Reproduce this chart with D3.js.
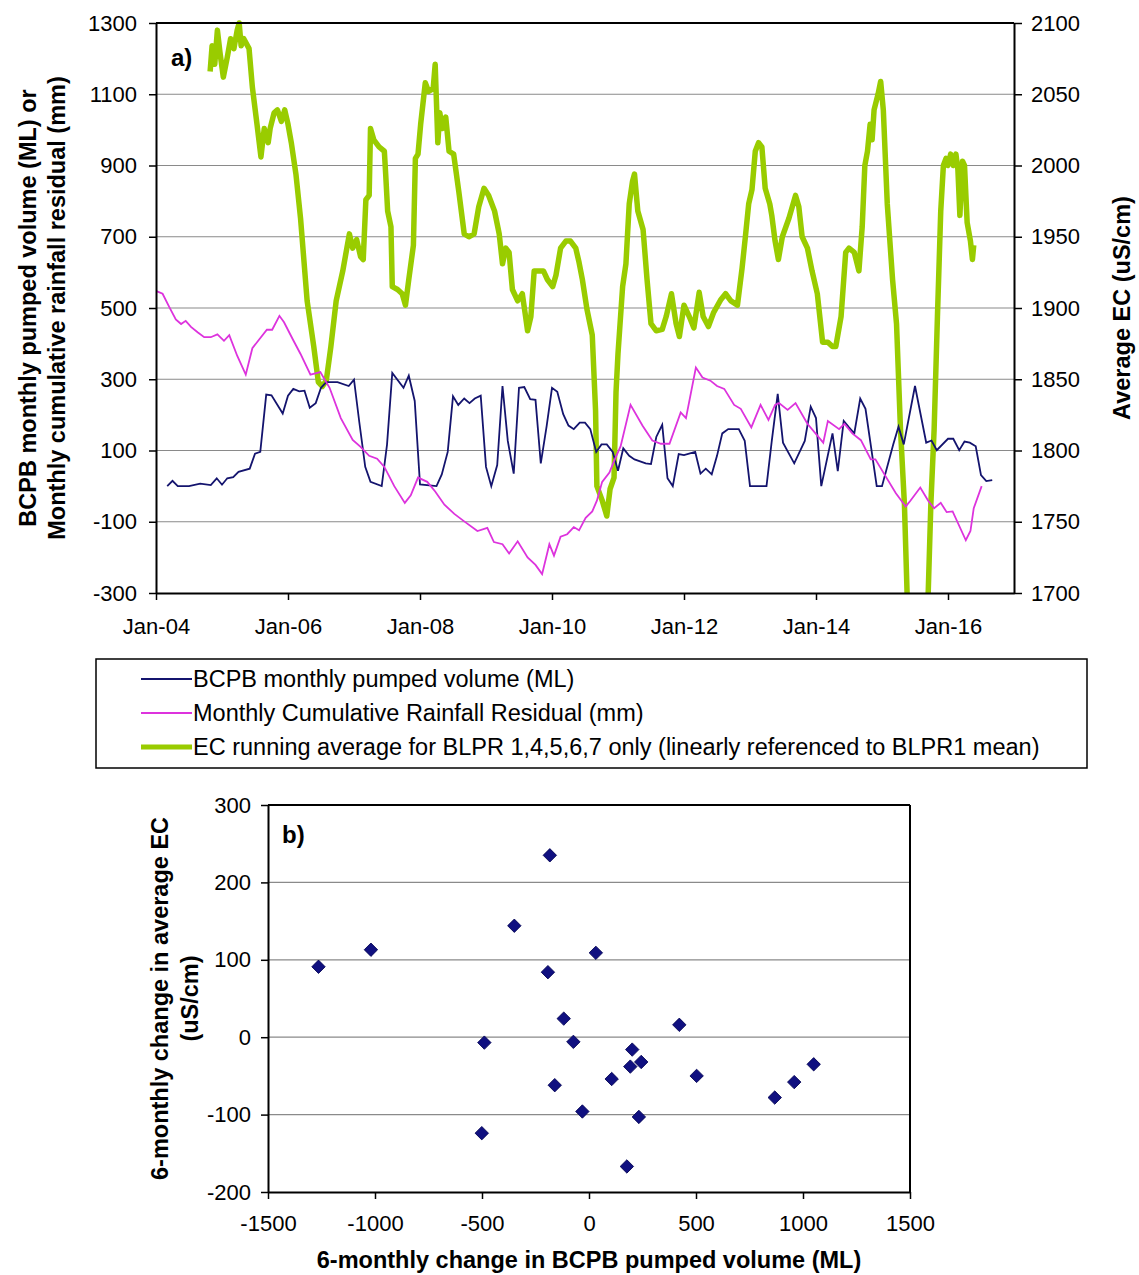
<!DOCTYPE html>
<html><head><meta charset="utf-8">
<script src="https://cdn.jsdelivr.net/npm/d3@7"></script>
<style>
body{margin:0;background:#fff;}
svg text{font-family:"Liberation Sans",Arial,sans-serif;fill:#000;}
</style></head>
<body>
<svg id="c" width="1139" height="1275"></svg>
<script>
// ---------- DATA (x = decimal year) ----------
const pumpedVolume = [
[2004.17,0],[2004.25,15],[2004.33,0],[2004.50,0],[2004.67,7],[2004.83,3],[2004.92,22],[2005.00,4],[2005.08,22],[2005.17,25],
[2005.25,40],[2005.42,49],[2005.50,91],[2005.58,96],[2005.67,257],[2005.75,255],[2005.92,204],[2006.00,254],[2006.08,273],[2006.17,266],
[2006.25,268],[2006.33,220],[2006.42,233],[2006.50,276],[2006.58,292],[2006.75,292],[2006.92,281],[2007.00,299],[2007.08,180],[2007.17,54],
[2007.25,12],[2007.42,0],[2007.50,116],[2007.58,318],[2007.75,276],[2007.83,310],[2007.92,239],[2008.00,5],[2008.25,0],[2008.33,33],
[2008.42,96],[2008.50,252],[2008.58,228],[2008.67,246],[2008.75,233],[2008.83,246],[2008.92,254],[2009.00,54],[2009.08,0],[2009.17,59],
[2009.25,281],[2009.33,127],[2009.42,35],[2009.50,276],[2009.58,278],[2009.67,244],[2009.75,242],[2009.83,64],[2009.92,170],[2010.00,276],
[2010.08,265],[2010.17,202],[2010.25,170],[2010.33,160],[2010.42,178],[2010.50,178],[2010.58,160],[2010.67,96],[2010.75,117],[2010.83,117],
[2010.92,96],[2011.00,43],[2011.08,106],[2011.17,85],[2011.25,75],[2011.42,64],[2011.50,62],[2011.58,138],[2011.67,172],[2011.75,22],
[2011.83,0],[2011.92,90],[2012.00,87],[2012.17,96],[2012.25,35],[2012.33,49],[2012.42,33],[2012.50,85],[2012.58,148],[2012.67,160],
[2012.83,160],[2012.92,127],[2013.00,0],[2013.25,0],[2013.33,127],[2013.42,259],[2013.50,122],[2013.67,64],[2013.83,127],[2013.92,223],
[2014.00,191],[2014.08,0],[2014.25,148],[2014.33,42],[2014.42,183],[2014.50,165],[2014.58,148],[2014.67,246],[2014.75,217],[2014.92,0],
[2015.00,0],[2015.17,117],[2015.25,167],[2015.33,117],[2015.50,281],[2015.67,122],[2015.75,128],[2015.83,101],[2016.00,133],[2016.08,133],
[2016.17,101],[2016.25,125],[2016.33,122],[2016.42,112],[2016.50,31],[2016.58,14],[2016.67,17]
];
const rainfallResidual = [
[2004.00,548],[2004.10,540],[2004.20,503],[2004.30,468],[2004.38,455],[2004.45,464],[2004.53,447],[2004.63,432],[2004.73,418],[2004.83,418],
[2004.93,426],[2005.03,408],[2005.11,424],[2005.23,366],[2005.36,313],[2005.46,387],[2005.56,411],[2005.68,439],[2005.76,439],[2005.87,478],
[2005.94,460],[2006.07,413],[2006.19,371],[2006.34,313],[2006.49,320],[2006.63,276],[2006.80,191],[2006.98,130],[2007.10,110],[2007.23,85],
[2007.35,77],[2007.46,54],[2007.61,0],[2007.77,-47],[2007.86,-26],[2007.97,24],[2008.11,12],[2008.23,-15],[2008.37,-52],[2008.52,-78],
[2008.67,-99],[2008.87,-126],[2009.02,-117],[2009.12,-157],[2009.25,-163],[2009.35,-189],[2009.48,-155],[2009.63,-200],[2009.75,-221],[2009.85,-247],
[2009.96,-163],[2010.03,-195],[2010.13,-142],[2010.23,-135],[2010.33,-115],[2010.41,-124],[2010.51,-89],[2010.61,-71],[2010.68,-41],[2010.76,12],
[2010.87,38],[2010.94,70],[2011.04,112],[2011.19,228],[2011.37,170],[2011.52,128],[2011.65,119],[2011.78,119],[2011.95,207],[2012.03,191],
[2012.18,333],[2012.28,305],[2012.40,296],[2012.50,281],[2012.61,273],[2012.76,228],[2012.86,217],[2013.02,165],[2013.16,228],[2013.28,186],
[2013.38,228],[2013.44,233],[2013.57,214],[2013.69,233],[2013.87,175],[2014.11,122],[2014.18,183],[2014.35,160],[2014.43,175],[2014.55,148],
[2014.68,129],[2014.83,75],[2014.90,75],[2015.03,35],[2015.21,-20],[2015.36,-57],[2015.43,-41],[2015.58,-4],[2015.70,-41],[2015.79,-62],
[2015.89,-47],[2015.98,-73],[2016.07,-71],[2016.27,-152],[2016.34,-126],[2016.39,-62],[2016.51,0]
];
const ecRunningAverage = [
[2004.82,2066],[2004.85,2084],[2004.89,2071],[2004.93,2095],[2004.97,2079],[2005.02,2062],[2005.08,2076],[2005.13,2089],[2005.18,2082],[2005.23,2095],
[2005.26,2100],[2005.29,2084],[2005.33,2089],[2005.41,2082],[2005.46,2055],[2005.53,2029],[2005.59,2006],[2005.64,2026],[2005.70,2016],[2005.73,2026],
[2005.79,2037],[2005.84,2039],[2005.90,2031],[2005.95,2039],[2006.00,2029],[2006.05,2016],[2006.12,1994],[2006.19,1963],[2006.29,1905],[2006.39,1873],
[2006.46,1848],[2006.52,1845],[2006.58,1849],[2006.65,1873],[2006.73,1905],[2006.83,1926],[2006.93,1952],[2006.98,1942],[2007.04,1948],[2007.10,1936],
[2007.14,1934],[2007.18,1976],[2007.23,1979],[2007.25,2026],[2007.30,2018],[2007.38,2013],[2007.46,2010],[2007.48,1994],[2007.51,1968],[2007.56,1957],
[2007.58,1915],[2007.66,1913],[2007.73,1910],[2007.78,1902],[2007.83,1920],[2007.90,1944],[2007.93,2005],[2007.97,2008],[2008.01,2029],[2008.08,2058],
[2008.13,2052],[2008.20,2054],[2008.23,2071],[2008.27,2016],[2008.30,2037],[2008.34,2026],[2008.39,2034],[2008.44,2010],[2008.51,2008],[2008.59,1981],
[2008.67,1952],[2008.74,1950],[2008.82,1952],[2008.89,1971],[2008.97,1984],[2009.04,1979],[2009.13,1968],[2009.20,1952],[2009.25,1931],[2009.30,1942],
[2009.35,1939],[2009.40,1913],[2009.48,1905],[2009.55,1910],[2009.60,1894],[2009.63,1884],[2009.68,1894],[2009.73,1926],[2009.80,1926],[2009.87,1926],
[2009.93,1920],[2010.01,1915],[2010.06,1923],[2010.13,1942],[2010.21,1947],[2010.28,1947],[2010.36,1942],[2010.41,1932],[2010.46,1920],[2010.53,1899],
[2010.61,1881],[2010.66,1828],[2010.68,1775],[2010.76,1765],[2010.83,1754],[2010.88,1773],[2010.94,1781],[2010.97,1841],[2011.00,1868],[2011.07,1915],
[2011.12,1931],[2011.17,1973],[2011.22,1989],[2011.25,1994],[2011.30,1968],[2011.38,1955],[2011.44,1920],[2011.50,1889],[2011.58,1884],[2011.67,1885],
[2011.73,1894],[2011.81,1910],[2011.88,1889],[2011.93,1880],[2012.00,1902],[2012.08,1894],[2012.15,1886],[2012.23,1911],[2012.29,1894],[2012.37,1887],
[2012.45,1897],[2012.56,1906],[2012.63,1910],[2012.71,1905],[2012.81,1902],[2012.88,1928],[2012.93,1950],[2012.98,1973],[2013.03,1983],[2013.08,2010],
[2013.13,2016],[2013.18,2013],[2013.23,1984],[2013.30,1973],[2013.33,1965],[2013.38,1947],[2013.43,1934],[2013.49,1950],[2013.59,1963],[2013.69,1979],
[2013.74,1971],[2013.79,1950],[2013.87,1942],[2013.94,1926],[2014.02,1910],[2014.10,1876],[2014.18,1876],[2014.25,1873],[2014.30,1873],[2014.38,1894],
[2014.45,1939],[2014.50,1942],[2014.58,1939],[2014.65,1926],[2014.70,1957],[2014.74,2000],[2014.78,2010],[2014.82,2029],[2014.85,2018],[2014.88,2039],
[2014.94,2050],[2014.98,2059],[2015.02,2039],[2015.08,1973],[2015.16,1920],[2015.22,1889],[2015.28,1815],[2015.34,1762],[2015.38,1700],[2015.43,1680],
[2015.65,1680],[2015.70,1700],[2015.74,1762],[2015.79,1815],[2015.84,1894],[2015.89,1968],[2015.93,2000],[2015.97,2005],[2016.00,2000],[2016.04,2008],
[2016.08,2000],[2016.12,2008],[2016.15,1997],[2016.18,1965],[2016.22,2003],[2016.25,2000],[2016.29,1960],[2016.34,1947],[2016.37,1934],[2016.39,1944]
];
const xTickYears = [2004,2006,2008,2010,2012,2014,2016];
const xTickLabels = ["Jan-04","Jan-06","Jan-08","Jan-10","Jan-12","Jan-14","Jan-16"];
const leftTicks = [-300,-100,100,300,500,700,900,1100,1300];
const rightTicks = [1700,1750,1800,1850,1900,1950,2000,2050,2100];
const seriesNames = ["BCPB monthly pumped volume (ML)","Monthly Cumulative Rainfall Residual (mm)","EC running average for BLPR 1,4,5,6,7 only (linearly referenced to BLPR1 mean)"];

// scatter (b): [change in pumped volume ML, change in average EC uS/cm]
const scatterPumpChange = [-1264,-1019,-349,-183,-192,32,-118,-489,-73,422,202,193,244,106,-160,503,1050,959,868,-31,233,-501,177];
const scatterECChange   = [91,113,144,235,84,109,24,-7,-6,16,-16,-38,-32,-54,-62,-50,-35,-58,-78,-96,-103,-124,-167];
const scatterXTicks = [-1500,-1000,-500,0,500,1000,1500];
const scatterYTicks = [-200,-100,0,100,200,300];

// ---------- CHART A ----------
const svg = d3.select("#c");
const A = {l:156, r:1014, t:23, b:593};
const x = d3.scaleLinear().domain([2004,2017]).range([A.l,A.r]);
const yL = d3.scaleLinear().domain([-300,1300]).range([A.b,A.t]);
const yR = d3.scaleLinear().domain([1700,2100]).range([A.b,A.t]);
const colors = {pump:"#14146e", rain:"#dd33dd", ec:"#99cc00"};
const fs = "22px";
const plain = d => String(d);

const ga = svg.append("g");
ga.append("g").selectAll("line").data(leftTicks.filter(v=>v>-300 && v<1300)).join("line")
  .attr("x1",A.l).attr("x2",A.r).attr("y1",d=>yL(d)).attr("y2",d=>yL(d))
  .attr("stroke","#8a8a8a").attr("stroke-width",1.2);

const defs = svg.append("defs");
defs.append("clipPath").attr("id","clipA").append("rect")
  .attr("x",A.l).attr("y",A.t-3).attr("width",A.r-A.l).attr("height",A.b-A.t+3);

const lineL = d3.line().x(d=>x(d[0])).y(d=>yL(d[1]));
const lineR = d3.line().x(d=>x(d[0])).y(d=>yR(d[1]));
const gl = ga.append("g").attr("clip-path","url(#clipA)");
gl.append("path").datum(ecRunningAverage).attr("d",lineR).attr("fill","none")
  .attr("stroke",colors.ec).attr("stroke-width",5.5).attr("stroke-linejoin","round");
gl.append("path").datum(pumpedVolume).attr("d",lineL).attr("fill","none")
  .attr("stroke",colors.pump).attr("stroke-width",1.8);
gl.append("path").datum(rainfallResidual).attr("d",lineL).attr("fill","none")
  .attr("stroke",colors.rain).attr("stroke-width",1.8);

ga.append("line").attr("x1",A.l).attr("x2",A.r).attr("y1",A.t).attr("y2",A.t).attr("stroke","#000").attr("stroke-width",2);

function styleAxis(g){
  g.selectAll(".domain").attr("stroke","#000").attr("stroke-width",2);
  g.selectAll(".tick line").attr("stroke","#000").attr("stroke-width",1.5);
  g.selectAll("text").style("font-size",fs).attr("fill","#000").style("font-family","'Liberation Sans',Arial,sans-serif");
}
const axL = ga.append("g").attr("transform",`translate(${A.l},0)`)
  .call(d3.axisLeft(yL).tickValues(leftTicks).tickSize(7).tickSizeOuter(0).tickPadding(12).tickFormat(plain));
styleAxis(axL);
const axR = ga.append("g").attr("transform",`translate(${A.r},0)`)
  .call(d3.axisRight(yR).tickValues(rightTicks).tickSize(8).tickSizeOuter(0).tickPadding(9).tickFormat(plain));
styleAxis(axR);
const axB = ga.append("g").attr("transform",`translate(0,${A.b})`)
  .call(d3.axisBottom(x).tickValues(xTickYears).tickSize(7).tickSizeOuter(0).tickPadding(18)
  .tickFormat((d,i)=>xTickLabels[i]));
styleAxis(axB);

ga.append("text").attr("x",171).attr("y",66).text("a)").style("font-size","24px").style("font-weight","bold");

const ay = (A.t+A.b)/2;
const tfs = "23.5px";
ga.append("text").attr("transform",`translate(36,${ay}) rotate(-90)`).attr("text-anchor","middle")
  .style("font-size",tfs).style("font-weight","bold").text("BCPB monthly pumped volume (ML) or");
ga.append("text").attr("transform",`translate(65,${ay}) rotate(-90)`).attr("text-anchor","middle")
  .style("font-size",tfs).style("font-weight","bold").text("Monthly cumulative rainfall residual (mm)");
ga.append("text").attr("transform",`translate(1130,${ay}) rotate(-90)`).attr("text-anchor","middle")
  .style("font-size",tfs).style("font-weight","bold").text("Average EC (uS/cm)");

// legend
const lg = svg.append("g");
lg.append("rect").attr("x",96).attr("y",659).attr("width",991).attr("height",109)
  .attr("fill","#fff").attr("stroke","#000").attr("stroke-width",1.5);
const legendColors = [colors.pump, colors.rain, colors.ec];
const legendWidths = [1.8,1.8,5];
seriesNames.forEach((name,i)=>{
  const yy = 679 + i*34;
  lg.append("line").attr("x1",141).attr("x2",192).attr("y1",yy).attr("y2",yy)
    .attr("stroke",legendColors[i]).attr("stroke-width",legendWidths[i]);
  lg.append("text").attr("x",193).attr("y",yy+8).style("font-size","23.5px").text(name);
});

// ---------- CHART B ----------
const B = {l:268, r:910, t:805, b:1192};
const xs = d3.scaleLinear().domain([-1500,1500]).range([B.l,B.r]);
const ys = d3.scaleLinear().domain([-200,300]).range([B.b,B.t]);
const gb = svg.append("g");
gb.append("g").selectAll("line").data(scatterYTicks.filter(v=>v>-200 && v<300)).join("line")
  .attr("x1",B.l).attr("x2",B.r).attr("y1",d=>ys(d)).attr("y2",d=>ys(d))
  .attr("stroke","#8a8a8a").attr("stroke-width",1.2);
gb.append("line").attr("x1",B.l).attr("x2",B.r).attr("y1",B.t).attr("y2",B.t).attr("stroke","#000").attr("stroke-width",2);
gb.append("line").attr("x1",B.r).attr("x2",B.r).attr("y1",B.t).attr("y2",B.b).attr("stroke","#000").attr("stroke-width",2);
const bxL = gb.append("g").attr("transform",`translate(${B.l},0)`)
  .call(d3.axisLeft(ys).tickValues(scatterYTicks).tickSize(7).tickSizeOuter(0).tickPadding(10).tickFormat(plain));
styleAxis(bxL);
const bxB = gb.append("g").attr("transform",`translate(0,${B.b})`)
  .call(d3.axisBottom(xs).tickValues(scatterXTicks).tickSize(7).tickSizeOuter(0).tickPadding(16).tickFormat(plain));
styleAxis(bxB);
gb.append("g").selectAll("path").data(scatterPumpChange.map((v,i)=>[v,scatterECChange[i]])).join("path")
  .attr("d", d3.symbol().type(d3.symbolSquare).size(90))
  .attr("transform",d=>`translate(${xs(d[0])},${ys(d[1])}) rotate(45)`)
  .attr("fill","#101080").attr("stroke","#000050").attr("stroke-width",0.8);
gb.append("text").attr("x",282).attr("y",843).text("b)").style("font-size","24px").style("font-weight","bold");
const by = (B.t+B.b)/2;
gb.append("text").attr("transform",`translate(168,${by}) rotate(-90)`).attr("text-anchor","middle")
  .style("font-size",tfs).style("font-weight","bold").text("6-monthly change in average EC");
gb.append("text").attr("transform",`translate(198,${by}) rotate(-90)`).attr("text-anchor","middle")
  .style("font-size",tfs).style("font-weight","bold").text("(uS/cm)");
gb.append("text").attr("x",(B.l+B.r)/2).attr("y",1268).attr("text-anchor","middle")
  .style("font-size",tfs).style("font-weight","bold").text("6-monthly change in BCPB pumped volume (ML)");
</script>
</body></html>
